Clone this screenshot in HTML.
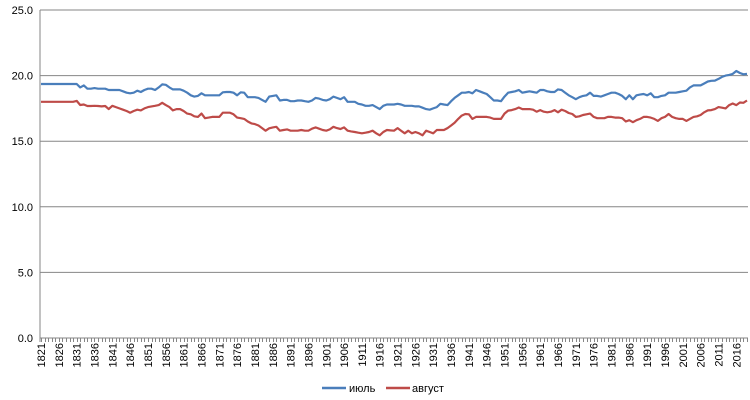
<!DOCTYPE html>
<html><head><meta charset="utf-8"><style>
body{margin:0;background:#fff;}
svg{display:block;font-family:"Liberation Sans",Arial,sans-serif;}
</style></head><body>
<svg id="chart" width="750" height="400" viewBox="0 0 750 400"></svg>
<script>
const startYear = 1821;
const julyValues = [
19.36,19.36,19.36,19.36,19.36,19.36,19.36,19.36,19.36,19.36,
19.36,19.1,19.25,19.0,19.0,19.05,19.0,19.0,19.0,18.9,
18.9,18.9,18.9,18.8,18.7,18.65,18.7,18.85,18.75,18.9,
19.0,19.0,18.9,19.1,19.33,19.3,19.1,18.95,18.95,18.95,
18.85,18.7,18.5,18.4,18.45,18.65,18.5,18.5,18.5,18.5,
18.5,18.73,18.75,18.75,18.7,18.5,18.73,18.7,18.35,18.35,
18.35,18.3,18.15,18.0,18.4,18.45,18.5,18.1,18.15,18.15,
18.05,18.05,18.1,18.1,18.05,18.0,18.1,18.3,18.25,18.15,
18.1,18.2,18.4,18.3,18.2,18.35,18.0,18.0,18.0,17.85,
17.8,17.7,17.7,17.75,17.6,17.45,17.7,17.8,17.8,17.8,
17.85,17.8,17.7,17.7,17.7,17.65,17.65,17.55,17.45,17.4,
17.5,17.6,17.85,17.8,17.75,18.05,18.3,18.5,18.7,18.7,
18.75,18.65,18.9,18.8,18.7,18.6,18.35,18.1,18.1,18.05,
18.4,18.7,18.75,18.8,18.9,18.7,18.75,18.8,18.75,18.7,
18.9,18.9,18.8,18.75,18.75,18.95,18.9,18.7,18.5,18.35,
18.2,18.35,18.45,18.5,18.7,18.45,18.45,18.4,18.5,18.6,
18.7,18.7,18.6,18.45,18.2,18.5,18.2,18.5,18.55,18.6,
18.5,18.65,18.35,18.35,18.45,18.5,18.7,18.7,18.7,18.75,
18.8,18.85,19.1,19.25,19.25,19.25,19.4,19.55,19.6,19.62,
19.75,19.9,20.0,20.05,20.13,20.35,20.2,20.1,20.13];
const augustValues = [
18.0,18.0,18.0,18.0,18.0,18.0,18.0,18.0,18.0,18.0,
18.07,17.76,17.8,17.68,17.68,17.7,17.68,17.65,17.68,17.45,
17.7,17.6,17.5,17.4,17.3,17.17,17.3,17.4,17.35,17.5,
17.6,17.65,17.7,17.75,17.93,17.75,17.6,17.35,17.45,17.45,
17.3,17.1,17.05,16.9,16.85,17.1,16.75,16.8,16.85,16.85,
16.85,17.17,17.17,17.17,17.05,16.8,16.75,16.7,16.5,16.36,
16.3,16.2,16.0,15.8,15.98,16.05,16.1,15.8,15.85,15.9,
15.8,15.8,15.8,15.85,15.8,15.8,15.95,16.05,15.95,15.85,
15.8,15.9,16.1,16.0,15.93,16.05,15.8,15.75,15.7,15.65,
15.6,15.65,15.7,15.8,15.6,15.45,15.7,15.85,15.82,15.8,
16.0,15.8,15.6,15.8,15.6,15.7,15.6,15.45,15.8,15.7,
15.6,15.85,15.85,15.85,16.0,16.2,16.4,16.7,16.95,17.07,
17.05,16.7,16.85,16.85,16.85,16.85,16.8,16.7,16.7,16.7,
17.1,17.33,17.37,17.45,17.57,17.45,17.45,17.45,17.4,17.25,
17.37,17.25,17.2,17.25,17.37,17.2,17.4,17.3,17.15,17.07,
16.85,16.9,17.0,17.05,17.1,16.85,16.75,16.75,16.75,16.85,
16.85,16.8,16.8,16.75,16.5,16.6,16.45,16.6,16.7,16.85,
16.85,16.8,16.7,16.55,16.75,16.85,17.07,16.85,16.75,16.7,
16.7,16.55,16.7,16.85,16.9,17.0,17.2,17.35,17.37,17.45,
17.6,17.55,17.5,17.75,17.87,17.75,17.95,17.93,18.1];
const yTicks = [0,5,10,15,20,25];
const yTickLabels = ["0.0","5.0","10.0","15.0","20.0","25.0"];
const seriesNames = ["июль","август"];

const NS="http://www.w3.org/2000/svg";
const svg=document.getElementById('chart');
const X0=40, X1=748, Y0=338, Y1=10, YMAX=25;
const n=julyValues.length;
const step=(747-41)/(n-1);
function xPos(i){return 41+i*step;}
function yPos(v){return Y0-(v/YMAX)*(Y0-Y1);}
function mk(tag,attrs){const e=document.createElementNS(NS,tag);for(const k in attrs)e.setAttribute(k,attrs[k]);svg.appendChild(e);return e;}

yTicks.forEach((t,i)=>{
  const y=yPos(t);
  const g=mk('line',{x1:X0,x2:X1,y1:y,y2:y,stroke:'#868686','stroke-width':1});
  
  
  const tx=mk('text',{x:33,y:y+4,'text-anchor':'end','font-size':11,fill:'#000'});
  tx.textContent=yTickLabels[i];
  
  
});
const ax=mk('line',{x1:X0,x2:X0,y1:Y1,y2:Y0+4,stroke:'#868686','stroke-width':1});


for(let i=0;i<n;i++){
  const x=Math.round(xPos(i))+0.5;
  const tk=mk('line',{x1:x,x2:x,y1:Y0,y2:Y0+4,stroke:'#868686','stroke-width':1});
  
  
  if(i%5===0){
    const xl=xPos(i)+4;
    const t=mk('text',{x:xl,y:343,'text-anchor':'end','font-size':11,fill:'#000',transform:'rotate(-90 '+xl+' 343)'});
    t.textContent=String(startYear+i);
    
    
  }
}
function drawLine(vals,color,name){
  const pts=vals.map((v,i)=>xPos(i).toFixed(1)+','+yPos(v).toFixed(1)).join(' ');
  const p=mk('polyline',{points:pts,fill:'none',stroke:color,'stroke-width':2.2,'stroke-linejoin':'round'});
  
  
}
drawLine(augustValues,'#be4b48','august-line');
drawLine(julyValues,'#4a7ebb','july-line');

const legend=[[322,'#4a7ebb',349],[386,'#be4b48',412]];
legend.forEach((l,i)=>{
  const ln=mk('line',{x1:l[0],x2:l[0]+24,y1:388,y2:388,stroke:l[1],'stroke-width':2.5});
  
  
  const t=mk('text',{x:l[2],y:392,'font-size':11,fill:'#000'});
  t.textContent=seriesNames[i];
  
  
});
</script>
</body></html>
